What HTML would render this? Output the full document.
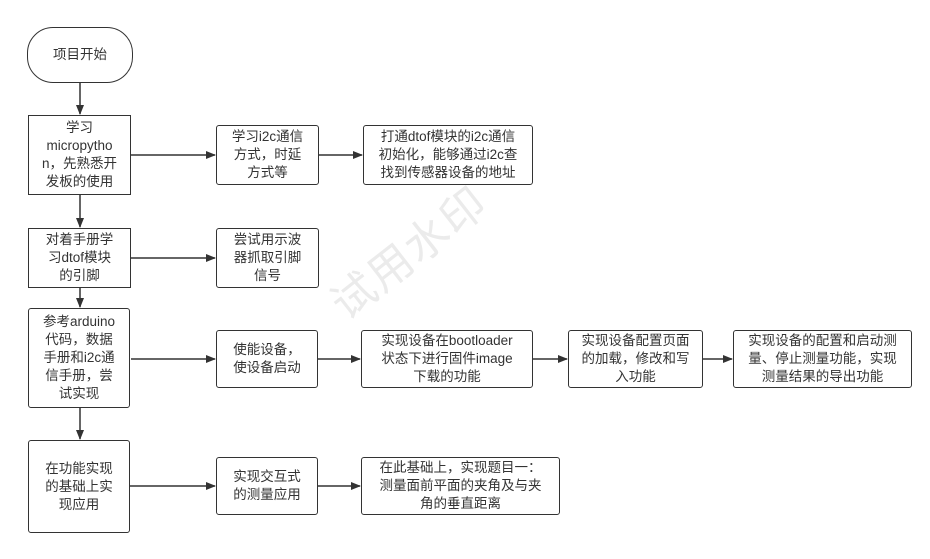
<!DOCTYPE html>
<html><head><meta charset="utf-8"><style>
body{margin:0;width:930px;height:559px;background:#fff;position:relative;overflow:hidden;font-family:"Liberation Sans","Noto Sans CJK SC",sans-serif;}
.b{position:absolute;border:1.5px solid #333;border-radius:3px;box-sizing:border-box;display:flex;align-items:center;justify-content:center;text-align:center;font-size:13.5px;line-height:18px;color:#333;background:#fff;white-space:nowrap;}
.sq{border-radius:0;}
svg{position:absolute;left:0;top:0;}
.wm{position:absolute;left:315px;top:218px;font-size:44px;color:#ebebeb;transform:rotate(-38deg);letter-spacing:2px;}
</style></head><body>
<div class="wm">试用水印</div>
<svg width="930" height="559">
<defs><marker id="a" markerWidth="10" markerHeight="10" refX="9" refY="5" orient="auto" markerUnits="userSpaceOnUse"><path d="M0,1 L10,5 L0,9z" fill="#333"/></marker></defs>
<g stroke="#333" stroke-width="1.5" fill="none">
<line x1="80" y1="82" x2="80" y2="114" marker-end="url(#a)"/>
<line x1="80" y1="195" x2="80" y2="227" marker-end="url(#a)"/>
<line x1="80" y1="288" x2="80" y2="307" marker-end="url(#a)"/>
<line x1="80" y1="408" x2="80" y2="439" marker-end="url(#a)"/>
<line x1="131" y1="155" x2="215" y2="155" marker-end="url(#a)"/>
<line x1="319" y1="155" x2="362" y2="155" marker-end="url(#a)"/>
<line x1="131" y1="258" x2="215" y2="258" marker-end="url(#a)"/>
<line x1="131" y1="359" x2="215" y2="359" marker-end="url(#a)"/>
<line x1="318" y1="359" x2="360" y2="359" marker-end="url(#a)"/>
<line x1="533" y1="359" x2="567" y2="359" marker-end="url(#a)"/>
<line x1="703" y1="359" x2="732" y2="359" marker-end="url(#a)"/>
<line x1="130" y1="486" x2="215" y2="486" marker-end="url(#a)"/>
<line x1="318" y1="486" x2="360" y2="486" marker-end="url(#a)"/>
</g></svg>
<div class="b" style="left:27px;top:27px;width:106px;height:56px;border-radius:26px;">项目开始</div>
<div class="b sq" style="left:28px;top:115px;width:103px;height:80px;">学习<br>micropytho<br>n，先熟悉开<br>发板的使用</div>
<div class="b" style="left:216px;top:125px;width:103px;height:60px;">学习i2c通信<br>方式，时延<br>方式等</div>
<div class="b" style="left:363px;top:125px;width:170px;height:60px;">打通dtof模块的i2c通信<br>初始化，能够通过i2c查<br>找到传感器设备的地址</div>
<div class="b sq" style="left:28px;top:228px;width:103px;height:60px;">对着手册学<br>习dtof模块<br>的引脚</div>
<div class="b" style="left:216px;top:228px;width:103px;height:60px;">尝试用示波<br>器抓取引脚<br>信号</div>
<div class="b" style="left:28px;top:308px;width:102px;height:100px;">参考arduino<br>代码，数据<br>手册和i2c通<br>信手册，尝<br>试实现</div>
<div class="b" style="left:216px;top:330px;width:102px;height:58px;">使能设备，<br>使设备启动</div>
<div class="b" style="left:361px;top:330px;width:172px;height:58px;">实现设备在bootloader<br>状态下进行固件image<br>下载的功能</div>
<div class="b" style="left:568px;top:330px;width:135px;height:58px;">实现设备配置页面<br>的加载，修改和写<br>入功能</div>
<div class="b" style="left:733px;top:330px;width:179px;height:58px;">实现设备的配置和启动测<br>量、停止测量功能，实现<br>测量结果的导出功能</div>
<div class="b" style="left:28px;top:440px;width:102px;height:93px;">在功能实现<br>的基础上实<br>现应用</div>
<div class="b" style="left:216px;top:457px;width:102px;height:58px;">实现交互式<br>的测量应用</div>
<div class="b" style="left:361px;top:457px;width:199px;height:58px;">在此基础上，实现题目一：<br>测量面前平面的夹角及与夹<br>角的垂直距离</div>
</body></html>
